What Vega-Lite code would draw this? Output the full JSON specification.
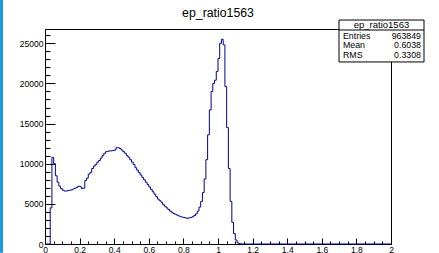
{
  "$schema": "https://vega.github.io/schema/vega-lite/v6.json",
  "width": 346,
  "height": 215,
  "autosize": {"type": "none"},
  "padding": {"left": 45, "top": 29, "right": 48, "bottom": 9},
  "background": "white",
  "config": {
    "view": {"stroke": "#000", "strokeWidth": 1},
    "font": "Liberation Sans",
    "axis": {"domainColor": "#000", "tickColor": "#000", "labelColor": "#000", "grid": false, "title": null, "labelFontSize": 8.5, "labelFont": "Liberation Sans", "labelOverlap": false, "labelFlush": false, "tickWidth": 1, "domainWidth": 1}
  },
  "data": {"values": [
    {"x": 0, "n": 0}, {"x": 0.03, "n": 4500}, {"x": 0.04, "n": 10800}, {"x": 0.05, "n": 10000}, {"x": 0.06, "n": 8500},
    {"x": 0.07, "n": 7700}, {"x": 0.08, "n": 7200}, {"x": 0.09, "n": 6900}, {"x": 0.10, "n": 6700}, {"x": 0.11, "n": 6600},
    {"x": 0.12, "n": 6600}, {"x": 0.13, "n": 6650}, {"x": 0.14, "n": 6700}, {"x": 0.15, "n": 6750}, {"x": 0.16, "n": 6850},
    {"x": 0.17, "n": 6950}, {"x": 0.18, "n": 7050}, {"x": 0.19, "n": 7200}, {"x": 0.20, "n": 7150}, {"x": 0.21, "n": 6900},
    {"x": 0.22, "n": 6950}, {"x": 0.23, "n": 7900}, {"x": 0.24, "n": 8200}, {"x": 0.25, "n": 8700}, {"x": 0.26, "n": 8900},
    {"x": 0.27, "n": 9400}, {"x": 0.28, "n": 9700}, {"x": 0.29, "n": 9900}, {"x": 0.30, "n": 10200}, {"x": 0.31, "n": 10400},
    {"x": 0.32, "n": 10700}, {"x": 0.33, "n": 11000}, {"x": 0.34, "n": 11300}, {"x": 0.35, "n": 11500}, {"x": 0.36, "n": 11550},
    {"x": 0.37, "n": 11600}, {"x": 0.38, "n": 11600}, {"x": 0.39, "n": 11650}, {"x": 0.40, "n": 11700}, {"x": 0.41, "n": 12000},
    {"x": 0.42, "n": 12000}, {"x": 0.43, "n": 11900}, {"x": 0.44, "n": 11700}, {"x": 0.45, "n": 11500}, {"x": 0.46, "n": 11300},
    {"x": 0.47, "n": 11000}, {"x": 0.48, "n": 10800}, {"x": 0.49, "n": 10500}, {"x": 0.50, "n": 10200}, {"x": 0.51, "n": 9900},
    {"x": 0.52, "n": 9500}, {"x": 0.53, "n": 9200}, {"x": 0.54, "n": 8900}, {"x": 0.55, "n": 8600}, {"x": 0.56, "n": 8300},
    {"x": 0.57, "n": 8000}, {"x": 0.58, "n": 7700}, {"x": 0.59, "n": 7400}, {"x": 0.60, "n": 7100}, {"x": 0.61, "n": 6800},
    {"x": 0.62, "n": 6500}, {"x": 0.63, "n": 6200}, {"x": 0.64, "n": 5900}, {"x": 0.65, "n": 5600}, {"x": 0.66, "n": 5400},
    {"x": 0.67, "n": 5200}, {"x": 0.68, "n": 4900}, {"x": 0.69, "n": 4700}, {"x": 0.70, "n": 4500}, {"x": 0.71, "n": 4300},
    {"x": 0.72, "n": 4100}, {"x": 0.73, "n": 3950}, {"x": 0.74, "n": 3800}, {"x": 0.75, "n": 3700}, {"x": 0.76, "n": 3600},
    {"x": 0.77, "n": 3500}, {"x": 0.78, "n": 3400}, {"x": 0.79, "n": 3350}, {"x": 0.80, "n": 3300}, {"x": 0.81, "n": 3250},
    {"x": 0.82, "n": 3200}, {"x": 0.83, "n": 3250}, {"x": 0.84, "n": 3300}, {"x": 0.85, "n": 3400}, {"x": 0.86, "n": 3550},
    {"x": 0.87, "n": 3750}, {"x": 0.88, "n": 4100}, {"x": 0.89, "n": 4600}, {"x": 0.90, "n": 5300}, {"x": 0.91, "n": 6400},
    {"x": 0.92, "n": 8100}, {"x": 0.93, "n": 10500}, {"x": 0.94, "n": 13600}, {"x": 0.95, "n": 16700}, {"x": 0.96, "n": 19000},
    {"x": 0.97, "n": 20000}, {"x": 0.98, "n": 20400}, {"x": 0.99, "n": 21500}, {"x": 1.00, "n": 23100}, {"x": 1.01, "n": 25000},
    {"x": 1.02, "n": 25500}, {"x": 1.03, "n": 24800}, {"x": 1.04, "n": 19600}, {"x": 1.05, "n": 14500}, {"x": 1.06, "n": 9400},
    {"x": 1.07, "n": 5300}, {"x": 1.08, "n": 2700}, {"x": 1.09, "n": 1300}, {"x": 1.10, "n": 500}, {"x": 1.11, "n": 150},
    {"x": 1.12, "n": 50}, {"x": 1.13, "n": 0}, {"x": 2.0, "n": 0}
  ]},
  "layer": [
    {
      "mark": {"type": "line", "interpolate": "step-after", "color": "#00008f", "strokeWidth": 1},
      "encoding": {
        "x": {"field": "x", "type": "quantitative", "scale": {"domain": [0, 2], "nice": false, "zero": false},
          "axis": {
            "values": [0,0.05,0.1,0.15,0.2,0.25,0.3,0.35,0.4,0.45,0.5,0.55,0.6,0.65,0.7,0.75,0.8,0.85,0.9,0.95,1,1.05,1.1,1.15,1.2,1.25,1.3,1.35,1.4,1.45,1.5,1.55,1.6,1.65,1.7,1.75,1.8,1.85,1.9,1.95,2],
            "tickCount": 100,
            "format": "~g",
            "labelOverlap": false,
            "labelFlush": false,
            "labelExpr": "abs(datum.value*5-round(datum.value*5))<0.001 ? datum.label : ''",
            "tickSize": {"condition": {"test": "abs(datum.value*5-round(datum.value*5))<0.001", "value": -6}, "value": -3},
            "labelPadding": 7
          }},
        "y": {"field": "n", "type": "quantitative", "scale": {"domain": [0, 26780], "nice": false},
          "axis": {
            "values": [0,1000,2000,3000,4000,5000,6000,7000,8000,9000,10000,11000,12000,13000,14000,15000,16000,17000,18000,19000,20000,21000,22000,23000,24000,25000,26000],
            "tickCount": 100,
            "format": "d",
            "labelOverlap": false,
            "labelExpr": "datum.value % 5000 === 0 ? datum.label : ''",
            "tickSize": {"condition": {"test": "datum.value % 5000 === 0", "value": -10}, "value": -5},
            "labelPadding": 12
          }}
      }
    },
    {
      "data": {"values": [{}]},
      "mark": {"type": "rect", "color": "#1a9be0"},
      "encoding": {"x": {"datum": -0.2601}, "x2": {"datum": -0.2428}, "y": {"datum": -1100}, "y2": {"datum": 30400}}
    },
    {
      "data": {"values": [{}]},
      "mark": {"type": "text", "fontSize": 12.3, "font": "Liberation Sans", "align": "center", "baseline": "alphabetic", "color": "#000"},
      "encoding": {"x": {"datum": 1.0}, "y": {"datum": 28333}, "text": {"value": "ep_ratio1563"}}
    },
    {
      "data": {"values": [{}]},
      "mark": {"type": "rect", "fill": "white", "stroke": "#000", "strokeWidth": 1},
      "encoding": {"x": {"datum": 1.6994}, "x2": {"datum": 2.1908}, "y": {"datum": 27898}, "y2": {"datum": 22674}}
    },
    {
      "data": {"values": [{}]},
      "mark": {"type": "rule", "color": "#000", "strokeWidth": 1},
      "encoding": {"x": {"datum": 1.6994}, "x2": {"datum": 2.1908}, "y": {"datum": 26654}}
    },
    {
      "data": {"values": [{}]},
      "mark": {"type": "text", "fontSize": 9.5, "align": "center", "baseline": "middle", "color": "#000"},
      "encoding": {"x": {"datum": 1.945}, "y": {"datum": 27276}, "text": {"value": "ep_ratio1563"}}
    },
    {
      "data": {"values": [{}]},
      "mark": {"type": "text", "fontSize": 8.8, "align": "left", "baseline": "middle", "lineHeight": 9.5, "color": "#000"},
      "encoding": {"x": {"datum": 1.7225}, "y": {"datum": 25970}, "text": {"value": ["Entries", "Mean", "RMS"]}}
    },
    {
      "data": {"values": [{}]},
      "mark": {"type": "text", "fontSize": 8.8, "align": "right", "baseline": "middle", "lineHeight": 9.5, "color": "#000"},
      "encoding": {"x": {"datum": 2.1734}, "y": {"datum": 25970}, "text": {"value": ["963849", "0.6038", "0.3308"]}}
    }
  ]
}
